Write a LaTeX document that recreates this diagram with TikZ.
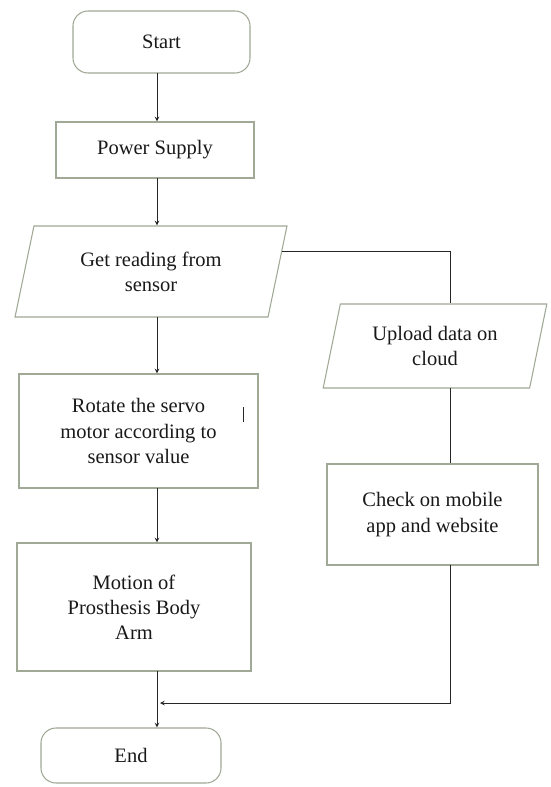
\documentclass[tikz,border=0pt]{standalone}
\usepackage{fontspec}
\setmainfont{Liberation Serif}
\usetikzlibrary{arrows,calc,positioning,shapes.geometric}
\newdimen\pxdim
\pxdim=0.03cm
\definecolor{boxline}{RGB}{160,168,150}
\tikzstyle{block}=[
  draw=boxline,
  line width=0.9pt,
  fill=white,
  align=center,
  text=black!90,
  font={\fontsize{17.5}{21.5}\selectfont},
  inner sep=0pt,
  outer sep=0pt,
]
\tikzstyle{terminal}=[
  block,
  rectangle,
  rounded corners=15\pxdim,
]
\tikzstyle{process}=[
  block,
  rectangle,
]
\tikzstyle{io}=[
  block,
  trapezium,
  trapezium left angle=74,
  trapezium right angle=106,
  trapezium stretches=true,
]
\tikzstyle{arrow}=[
  draw=black!85,
  line width=0.8pt,
]
\tikzset{
  >=stealth,
  shorten >=.5pt,
}

\begin{document}
\begin{tikzpicture}[x=0.03cm, y=-0.03cm]
  \useasboundingbox (0,0) rectangle (550,787);
  %% left column
  \node (start) [terminal, minimum width=177\pxdim, minimum height=62\pxdim] at (161.5,42) {Start};
  \node (power) [process, minimum width=198\pxdim, minimum height=56\pxdim] at (155,150) {Power Supply};
  \node (reading) [io, minimum width=272\pxdim, minimum height=91\pxdim] at (151,271.5) {Get reading from\\sensor};
  \node (rotate) [process, minimum width=239\pxdim, minimum height=114\pxdim] at (138.5,431) {Rotate the servo\\motor according to\\sensor value};
  \node (motion) [process, minimum width=234\pxdim, minimum height=128\pxdim] at (134,607) {Motion of\\Prosthesis Body\\Arm};
  \node (end) [terminal, minimum width=180\pxdim, minimum height=55\pxdim] at (131,755.5) {End};
  %% right column
  \node (upload) [io, minimum width=224\pxdim, minimum height=84\pxdim] at (435,346) {Upload data on\\cloud};
  \node (check) [process, minimum width=211\pxdim, minimum height=101\pxdim] at (432.5,514.5) {Check on mobile\\app and website};
  %%
  \coordinate (spine) at (157,0);
  \coordinate (rail) at (450,0);
  \coordinate (merge) at (157,703);
  \coordinate (tap) at ($(reading.top right corner)!0.28!(reading.bottom right corner)$);
  %%
  \draw [->, arrow] (start.south -| spine) -- (power.north -| spine);
  \draw [->, arrow] (power.south -| spine) -- (reading.north -| spine);
  \draw [->, arrow] (reading.south -| spine) -- (rotate.north -| spine);
  \draw [->, arrow] (rotate.south -| spine) -- (motion.north -| spine);
  \draw [->, arrow] (motion.south -| spine) -- (end.north -| spine);
  \draw [arrow] (rotate.east) ++(-15,-24) -- ++(0,16);
  %%
  \draw [arrow] (tap) -| (upload.north -| rail);
  \draw [arrow] (upload.south -| rail) -- (check.north -| rail);
  \draw [->, arrow, shorten >=3\pxdim] (check.south -| rail) |- (merge);
\end{tikzpicture}
\end{document}
